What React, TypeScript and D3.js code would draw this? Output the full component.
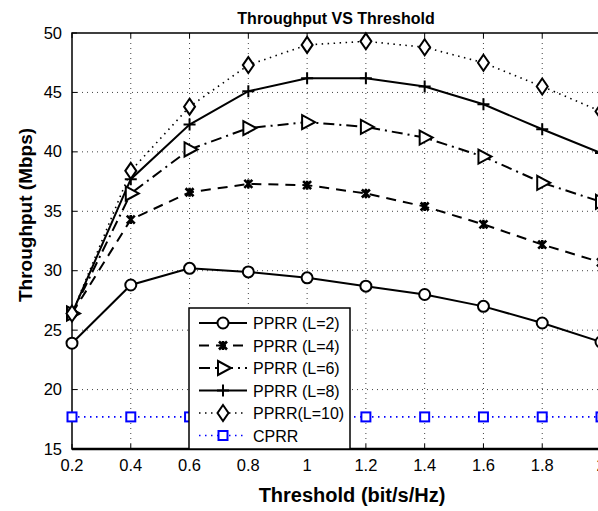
import React, { useEffect, useRef } from "react";
import * as d3 from "d3";

const thresholds = [0.2, 0.4, 0.6, 0.8, 1.0, 1.2, 1.4, 1.6, 1.8, 2.0];
const pprrL2 = [23.9, 28.8, 30.2, 29.9, 29.4, 28.7, 28.0, 27.0, 25.6, 24.0];
const pprrL4 = [26.4, 34.3, 36.6, 37.3, 37.2, 36.5, 35.4, 33.9, 32.2, 30.7];
const pprrL6 = [26.4, 36.5, 40.2, 42.0, 42.5, 42.1, 41.2, 39.6, 37.4, 35.8];
const pprrL8 = [26.4, 37.7, 42.3, 45.1, 46.2, 46.2, 45.5, 44.0, 41.9, 39.9];
const pprrL10 = [26.4, 38.4, 43.8, 47.3, 49.0, 49.3, 48.8, 47.5, 45.5, 43.4];
const cprr = [17.7, 17.7, 17.7, 17.7, 17.7, 17.7, 17.7, 17.7, 17.7, 17.7];
const xTicks = [0.2, 0.4, 0.6, 0.8, 1, 1.2, 1.4, 1.6, 1.8, 2];
const yTicks = [15, 20, 25, 30, 35, 40, 45, 50];

const seriesList = [
  { name: "PPRR (L=2)", values: pprrL2, color: "#000", dash: null, marker: "circle" },
  { name: "PPRR (L=4)", values: pprrL4, color: "#000", dash: "10,7", marker: "x" },
  { name: "PPRR (L=6)", values: pprrL6, color: "#000", dash: "11,5,2,5", marker: "triangle" },
  { name: "PPRR (L=8)", values: pprrL8, color: "#000", dash: null, marker: "plus" },
  { name: "PPRR(L=10)", values: pprrL10, color: "#000", dash: "1.5,4.5", marker: "diamond" },
  { name: "CPRR", values: cprr, color: "#0000ff", dash: "1.5,4.5", marker: "square" },
];

const FONT = "'Liberation Sans', Arial, Helvetica, sans-serif";

function drawMarker(g, type, cx, cy, color) {
  const m = g.append("g").attr("transform", `translate(${cx},${cy})`);
  if (type === "circle") {
    m.append("circle").attr("r", 5.5).attr("fill", "white").attr("stroke", color).attr("stroke-width", 2);
  } else if (type === "x") {
    m.append("path").attr("d", "M-4,-4L4,4M-4,4L4,-4M0,-4.5L0,4.5").attr("stroke", color).attr("stroke-width", 2.6);
  } else if (type === "triangle") {
    m.append("path").attr("d", "M-5,-7L8,0L-5,7Z").attr("fill", "white").attr("stroke", color).attr("stroke-width", 2);
  } else if (type === "plus") {
    m.append("path").attr("d", "M-6,0L6,0M0,-6L0,6").attr("stroke", color).attr("stroke-width", 2);
  } else if (type === "diamond") {
    m.append("path").attr("d", "M0,-8L5.5,0L0,8L-5.5,0Z").attr("fill", "white").attr("stroke", color).attr("stroke-width", 2);
  } else if (type === "square") {
    m.append("rect").attr("x", -4.5).attr("y", -4.5).attr("width", 9).attr("height", 9)
      .attr("fill", "white").attr("stroke", color).attr("stroke-width", 2);
  }
}

const App = () => {
  const ref = useRef(null);

  useEffect(() => {
    const svg = d3.select(ref.current);
    svg.selectAll("*").remove();

    const x = d3.scaleLinear().domain([0.2, 2]).range([72, 601]);
    const y = d3.scaleLinear().domain([15, 50]).range([449, 33]);
    const [x0, x1] = x.range();
    const [yb, yt] = y.range();

    svg.append("rect").attr("width", 598).attr("height", 511).attr("fill", "white");

    // grid
    const grid = svg.append("g").attr("stroke", "#444").attr("stroke-width", 1).attr("stroke-dasharray", "1,4");
    xTicks.slice(1).forEach((t) => {
      grid.append("line").attr("x1", x(t)).attr("x2", x(t)).attr("y1", yb).attr("y2", yt);
    });
    yTicks.slice(1, -1).forEach((t) => {
      grid.append("line").attr("x1", x0).attr("x2", x1).attr("y1", y(t)).attr("y2", y(t));
    });

    // frame
    svg.append("path")
      .attr("d", `M${x0},${yb}L${x0},${yt}L${x1},${yt}L${x1},${yb}Z`)
      .attr("fill", "none").attr("stroke", "#000").attr("stroke-width", 1.5);
    svg.append("line").attr("x1", x0).attr("x2", x1).attr("y1", yb).attr("y2", yb)
      .attr("stroke", "#000").attr("stroke-width", 2.5);

    // ticks
    const ticks = svg.append("g").attr("stroke", "#000").attr("stroke-width", 1);
    xTicks.forEach((t) => {
      ticks.append("line").attr("x1", x(t)).attr("x2", x(t)).attr("y1", yb).attr("y2", yb - 5);
      ticks.append("line").attr("x1", x(t)).attr("x2", x(t)).attr("y1", yt).attr("y2", yt + 5);
    });
    yTicks.forEach((t) => {
      ticks.append("line").attr("x1", x0).attr("x2", x0 + 5).attr("y1", y(t)).attr("y2", y(t));
    });

    // tick labels (the last one is clipped at the window edge, as in the source figure)
    xTicks.forEach((t) => {
      svg.append("text").attr("x", x(t)).attr("y", 471).attr("text-anchor", "middle")
        .style("font-family", FONT).style("font-size", "16.5px").text(String(t));
    });
    yTicks.forEach((t) => {
      svg.append("text").attr("x", 62).attr("y", y(t) + 5.5).attr("text-anchor", "end")
        .style("font-family", FONT).style("font-size", "16.5px").text(String(t));
    });

    // lines
    const line = d3.line().x((d) => x(d[0])).y((d) => y(d[1]));
    seriesList.forEach((s) => {
      const pts = thresholds.map((t, i) => [t, s.values[i]]);
      const p = svg.append("path").attr("d", line(pts)).attr("fill", "none")
        .attr("stroke", s.color).attr("stroke-width", s.dash && s.dash.startsWith("1.5") ? 1.6 : 2);
      if (s.dash) p.attr("stroke-dasharray", s.dash);
    });
    seriesList.forEach((s) => {
      thresholds.forEach((t, i) => drawMarker(svg, s.marker, x(t), y(s.values[i]), s.color));
    });

    // legend
    const lg = svg.append("g");
    lg.append("rect").attr("x", 189).attr("y", 308).attr("width", 161).attr("height", 141)
      .attr("fill", "white").attr("stroke", "#000").attr("stroke-width", 1.5);
    seriesList.forEach((s, i) => {
      const ly = 323 + i * 22.5;
      const l = lg.append("line").attr("x1", 199).attr("x2", 247).attr("y1", ly).attr("y2", ly)
        .attr("stroke", s.color).attr("stroke-width", s.dash && s.dash.startsWith("1.5") ? 1.6 : 2);
      if (s.dash) l.attr("stroke-dasharray", s.dash);
      drawMarker(lg, s.marker, 223, ly, s.color);
      lg.append("text").attr("x", 253).attr("y", ly + 6).style("font-family", FONT)
        .style("font-size", "16px").text(s.name);
    });

    // titles
    svg.append("text").attr("x", 336).attr("y", 24).attr("text-anchor", "middle")
      .style("font-family", FONT).style("font-size", "16px").style("font-weight", "bold")
      .text("Throughput VS Threshold");
    svg.append("text").attr("x", 352).attr("y", 502).attr("text-anchor", "middle")
      .style("font-family", FONT).style("font-size", "20px").style("font-weight", "bold")
      .text("Threshold (bit/s/Hz)");
    svg.append("text").attr("transform", `translate(32,${(yb + yt) / 2 - 26}) rotate(-90)`)
      .attr("text-anchor", "middle")
      .style("font-family", FONT).style("font-size", "19px").style("font-weight", "bold")
      .text("Throughput (Mbps)");
  }, []);

  return (
    <>
      <style>{`body{margin:0}`}</style>
      <svg ref={ref} width={598} height={511} style={{ display: "block" }}></svg>
    </>
  );
};

export default App;
